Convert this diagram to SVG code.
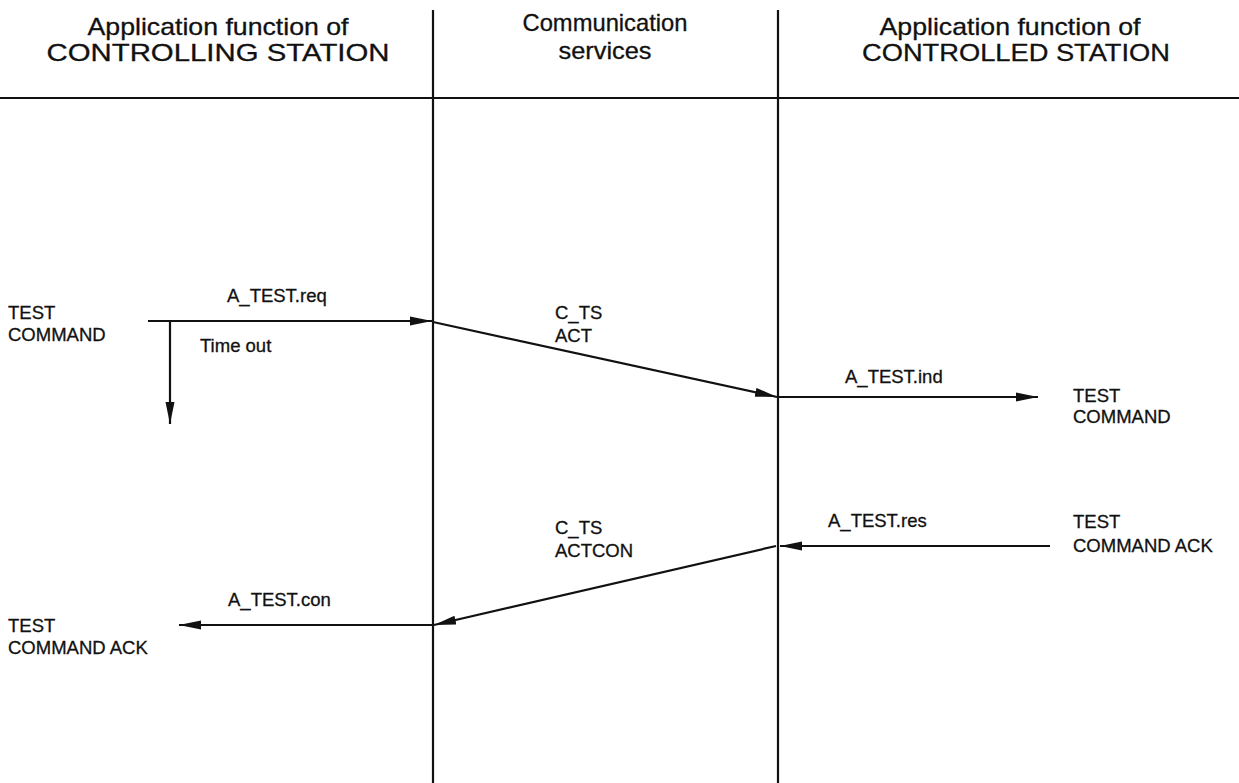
<svg xmlns="http://www.w3.org/2000/svg" width="1239" height="783" viewBox="0 0 1239 783">
  <style>
    .hd { font-family: "Liberation Sans", Arial, sans-serif; font-size: 24px; fill: #111; stroke: #111; stroke-width: 0.3; text-anchor: middle; }
    .lb { font-family: "Liberation Sans", Arial, sans-serif; font-size: 18.5px; fill: #111; stroke: #111; stroke-width: 0.3; }
    .ln { stroke: #111; stroke-width: 2.2; fill: none; }
    .msg { stroke: #111; stroke-width: 2.2; fill: none; marker-end: url(#arr); }
  </style>
  <defs>
    <marker id="arr" viewBox="0 0 22 10" refX="22" refY="5" markerWidth="22" markerHeight="10" markerUnits="userSpaceOnUse" orient="auto">
      <path d="M0,0.5 L22,5 L0,9.5 Z" fill="#111"/>
    </marker>
  </defs>
  <rect width="1239" height="783" fill="#fff"/>

  <!-- column headers and lifelines -->
  <g id="frame">
    <line class="ln" x1="0" y1="98" x2="1239" y2="98"/>
    <line class="ln" x1="433" y1="10" x2="433" y2="783"/>
    <line class="ln" x1="778" y1="10" x2="778" y2="783"/>
  </g>
  <g id="header-controlling">
    <text class="hd" x="218" y="35" textLength="261" lengthAdjust="spacingAndGlyphs">Application function of</text>
    <text class="hd" x="218" y="61" textLength="343" lengthAdjust="spacingAndGlyphs">CONTROLLING STATION</text>
  </g>
  <g id="header-comm">
    <text class="hd" x="605" y="31" textLength="165" lengthAdjust="spacingAndGlyphs">Communication</text>
    <text class="hd" x="605" y="59" textLength="93" lengthAdjust="spacingAndGlyphs">services</text>
  </g>
  <g id="header-controlled">
    <text class="hd" x="1010" y="35" textLength="261" lengthAdjust="spacingAndGlyphs">Application function of</text>
    <text class="hd" x="1016" y="61" textLength="308" lengthAdjust="spacingAndGlyphs">CONTROLLED STATION</text>
  </g>

  <!-- endpoint labels -->
  <g id="cmd-left">
    <text class="lb" x="8" y="319">TEST</text>
    <text class="lb" x="8" y="341">COMMAND</text>
  </g>
  <g id="cmd-right">
    <text class="lb" x="1073" y="402">TEST</text>
    <text class="lb" x="1073" y="423">COMMAND</text>
  </g>
  <g id="ack-right">
    <text class="lb" x="1073" y="528">TEST</text>
    <text class="lb" x="1073" y="552">COMMAND ACK</text>
  </g>
  <g id="ack-left">
    <text class="lb" x="8" y="632">TEST</text>
    <text class="lb" x="8" y="654">COMMAND ACK</text>
  </g>

  <!-- messages -->
  <g id="connectors">
    <line class="msg" x1="148" y1="321" x2="432" y2="321"/>
    <line class="msg" x1="170" y1="321" x2="170" y2="424"/>
    <line class="msg" x1="433" y1="322" x2="777" y2="397"/>
    <line class="msg" x1="779" y1="397" x2="1038" y2="397"/>
    <line class="msg" x1="1050" y1="546" x2="780" y2="546"/>
    <line class="msg" x1="776" y1="546" x2="434" y2="625"/>
    <line class="msg" x1="432" y1="625" x2="179" y2="625"/>
  </g>
  <g id="message-labels">
    <text class="lb" x="227" y="302">A_TEST.req</text>
    <text class="lb" x="200" y="352">Time out</text>
    <text class="lb" x="555" y="319">C_TS</text>
    <text class="lb" x="555" y="342">ACT</text>
    <text class="lb" x="845" y="383">A_TEST.ind</text>
    <text class="lb" x="828" y="527">A_TEST.res</text>
    <text class="lb" x="555" y="534">C_TS</text>
    <text class="lb" x="555" y="557">ACTCON</text>
    <text class="lb" x="228" y="606">A_TEST.con</text>
  </g>
</svg>
